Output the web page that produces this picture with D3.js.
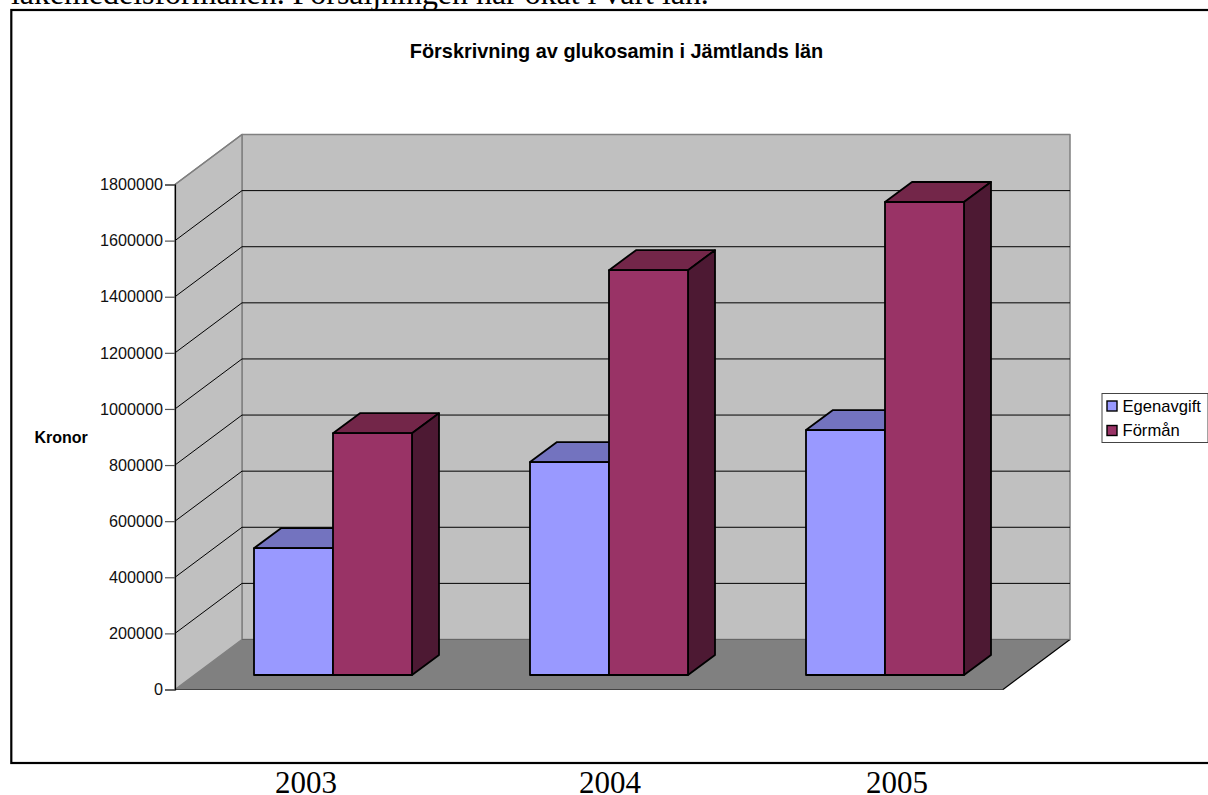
<!doctype html>
<html>
<head>
  <meta charset="utf-8" />
  <script src="https://cdn.jsdelivr.net/npm/d3@7"></script>
</head>
<body style="margin:0px;background:#fff">
<script>

var w = 1208;
var h = 795;

var years = ["2003", "2004", "2005"];
var seriesNames = ["Egenavgift", "Förmån"];
var egenavgift = [452000, 759000, 873000];
var forman = [862000, 1443000, 1686000];
var valueTicks = [0, 200000, 400000, 600000, 800000, 1000000, 1200000, 1400000, 1600000, 1800000];
var colors = ["#9999ff", "#993366"];
var topColors = ["#7373bf", "#732649"];
var sideColors = ["#4d4d80", "#4d1933"];

var svg = d3.select("body").append("svg").attr("width", w).attr("height", h)
  .style("display", "block");

var sans = "'Liberation Sans', Arial, sans-serif";
var serif = "'Liberation Serif', 'Times New Roman', serif";

// line of text cut off by the chart box
svg.append("text").attr("x", 11).attr("y", 3.5)
   .attr("font-family", serif).attr("font-size", 31.9)
   .text("läkemedelsförmånen. Försäljningen har ökat i vårt län.");

svg.append("rect").attr("x", 11.3).attr("y", 10).attr("width", 1210).attr("height", 753)
   .attr("fill", "#fff").attr("stroke", "#000").attr("stroke-width", 2.2);

svg.append("text").attr("x", 616.5).attr("y", 57.5).attr("text-anchor", "middle")
   .attr("font-family", sans).attr("font-size", 19.9).attr("font-weight", "bold")
   .text("Förskrivning av glukosamin i Jämtlands län");

// front plane of the 3d box, the back plane is shifted by depth
var x0 = 175, x1 = 1003, y0 = 689.5, y1 = 184.5;
var depthX = 67, depthY = -50;

var y = d3.scaleLinear().domain([0, 1800000]).range([y0, y1]);
var xCat = d3.scaleBand().domain(years).range([x0, x1]);
var xBar = d3.scalePoint().domain(seriesNames).range([0, 79]);

function poly(pts, fill, stroke, sw) {
  return svg.append("polygon")
    .attr("points", pts.map(function(p){ return p.join(","); }).join(" "))
    .attr("fill", fill).attr("stroke", stroke || "none").attr("stroke-width", sw || 0)
    .attr("stroke-linejoin", "round");
}

// walls
poly([[x0+depthX, y1+depthY], [x1+depthX, y1+depthY], [x1+depthX, y0+depthY], [x0+depthX, y0+depthY]], "#c0c0c0", "#808080", 1.5);
poly([[x0, y1], [x0+depthX, y1+depthY], [x0+depthX, y0+depthY], [x0, y0]], "#c0c0c0", "#808080", 1.5);

// gridlines on both walls
var inner = valueTicks.slice(1, -1);
svg.append("g").selectAll("path").data(inner).enter().append("path")
   .attr("d", function(d){
     return "M" + x0 + "," + y(d) + "L" + (x0+depthX) + "," + (y(d)+depthY) + "H" + (x1+depthX);
   })
   .attr("fill", "none").attr("stroke", "#000").attr("stroke-width", 1);
svg.append("path")
   .attr("d", "M" + x0 + "," + y1 + "L" + (x0+depthX) + "," + (y1+depthY))
   .attr("stroke", "#808080").attr("stroke-width", 1.5);

// floor
poly([[x0, y0], [x0+depthX, y0+depthY], [x1+depthX, y0+depthY], [x1, y0]], "#808080");
svg.append("path").attr("d", "M" + x0 + "," + y0 + "H" + x1)
   .attr("stroke", "#444").attr("stroke-width", 1.2);
svg.append("path").attr("d", "M" + x1 + "," + y0 + "L" + (x1+depthX) + "," + (y0+depthY))
   .attr("stroke", "#000").attr("stroke-width", 1.2);
svg.append("path").attr("d", "M" + (x0+depthX) + "," + (y0+depthY) + "H" + (x1+depthX))
   .attr("stroke", "#666").attr("stroke-width", 1.2);

// bars, sitting 14px up the floor
var barDX = 20, barDY = -14.5, barDepthX = 27, barDepthY = -20, barW = 79;
var barCenter = xCat.bandwidth() / 2;
var baseShift = y(0) + barDY;

function drawBar(cat, s, v) {
  var left = xCat(cat) + barCenter + barDX - barW + xBar(seriesNames[s]);
  var right = left + barW;
  var top = y(v) + barDY;
  var strokeW = 1.8;
  poly([[left, top], [left+barDepthX, top+barDepthY], [right+barDepthX, top+barDepthY], [right, top]], topColors[s], "#000", strokeW);
  poly([[right, top], [right+barDepthX, top+barDepthY], [right+barDepthX, baseShift+barDepthY], [right, baseShift]], sideColors[s], "#000", strokeW);
  poly([[left, top], [right, top], [right, baseShift], [left, baseShift]], colors[s], "#000", strokeW);
}

years.forEach(function(yr, i) {
  drawBar(yr, 0, egenavgift[i]);
  drawBar(yr, 1, forman[i]);
});

// value axis
var axis = d3.axisLeft(y).tickValues(valueTicks).tickFormat(d3.format("d")).tickSize(10).tickPadding(2);
var gAxis = svg.append("g").attr("transform", "translate(" + x0 + ",0)").call(axis);
gAxis.selectAll("text").attr("font-family", sans).attr("font-size", 16.2).attr("fill", "#111");
gAxis.selectAll("line").attr("stroke", "#555").attr("stroke-width", 1.2);
gAxis.select(".domain").attr("stroke", "#000").attr("stroke-width", 1.2);

svg.append("text").attr("x", 34.5).attr("y", 442.5)
   .attr("font-family", sans).attr("font-size", 16).attr("font-weight", "bold")
   .text("Kronor");

// legend
var lx = 1102, ly = 393.5;
svg.append("rect").attr("x", lx).attr("y", ly).attr("width", 106).attr("height", 49)
   .attr("fill", "#fff").attr("stroke", "#444").attr("stroke-width", 1);
var lg = svg.append("g").selectAll("g").data(seriesNames).enter().append("g")
   .attr("transform", function(d, i){ return "translate(" + (lx+5) + "," + (ly+12.5+i*24.5) + ")"; });
lg.append("rect").attr("x", 0).attr("y", -5).attr("width", 10).attr("height", 10)
   .attr("fill", function(d, i){ return colors[i]; })
   .attr("stroke", "#000").attr("stroke-width", 1.4);
lg.append("text").attr("x", 15.5).attr("y", 5.5)
   .attr("font-family", sans).attr("font-size", 16.6)
   .text(function(d){ return d; });

// year captions under the box
var yearX = [306, 610, 897];
svg.append("g").selectAll("text").data(years).enter().append("text")
   .attr("x", function(d, i){ return yearX[i]; }).attr("y", 792.5)
   .attr("text-anchor", "middle")
   .attr("font-family", serif).attr("font-size", 31)
   .text(function(d){ return d; });

</script>
</body>
</html>
